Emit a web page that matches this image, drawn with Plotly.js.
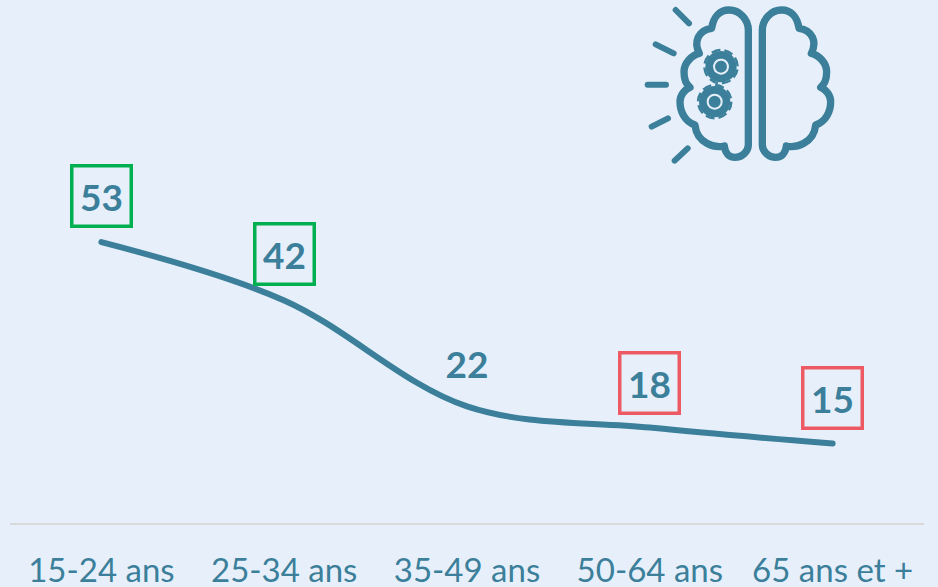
<!DOCTYPE html>
<html><head><meta charset="utf-8">
<script src="https://cdn.plot.ly/plotly-3.0.1.min.js"></script>
<style>html,body{margin:0;padding:0;background:#E7F0FA;overflow:hidden}
.js-line{stroke-linecap:round !important}</style>
</head><body><div id="chart" style="width:938px;height:587px"></div>
<script>
const categories = ["15-24 ans","25-34 ans","35-49 ans","50-64 ans","65 ans et +"];
const values = [53,42,22,18,15];
const labelBorders = ["#00B050","#00B050",null,"#EE5A64","#EE5A64"];
const labelShift = [46,46,43,45,46];
const ink = "#3B7F9A", bg = "#E7F0FA";

const half = `<path d="M355 90V435C355 455 335 472 315 472C297 472 285 458 283 438C255 445 200 430 195 375C165 365 150 335 150 305C150 285 165 268 180 262C165 250 162 230 162 215C162 190 185 165 208 160C190 125 205 90 245 85C250 50 270 30 297 30C330 30 355 60 355 90Z" fill="none" stroke="${ink}" stroke-width="22" stroke-linejoin="round"/>`;
const gear = (x,y,r) => `<g transform="translate(${x} ${y}) rotate(${r})"><circle r="47" fill="${ink}"/><circle r="50" fill="none" stroke="${ink}" stroke-width="7" stroke-dasharray="27 12.27"/><circle r="24" fill="${bg}"/><circle r="18" fill="${ink}"/></g>`;
const ray = (a,b,c,d) => `<line x1="${a}" y1="${b}" x2="${c}" y2="${d}" stroke="${ink}" stroke-width="18" stroke-linecap="round"/>`;
const svg = `<svg xmlns="http://www.w3.org/2000/svg" viewBox="0 0 660 510" width="660" height="510">${half}<g transform="translate(752 0) scale(-1 1)">${half}</g>${gear(273,200,10)}${gear(254,305,0)}${ray(137,30,177,70)}${ray(77,133,131,160)}${ray(53,254,108,254)}${ray(65,380,114,355)}${ray(134,482,173,445)}</svg>`;

const annotations = categories.map((c,i)=>{
  const a = {x:c,y:values[i],xref:"x",yref:"y",text:"<b>"+values[i]+"</b>",showarrow:false,yshift:labelShift[i],
    font:{family:"Lato, sans-serif",size:37,color:ink},width:56,height:57,align:"center",valign:"middle"};
  if(labelBorders[i]){a.bordercolor=labelBorders[i];a.borderwidth=3.5;a.borderpad=0;}
  return a;
});

Plotly.newPlot("chart",[{
  type:"scatter",mode:"lines",x:categories,y:values,
  line:{color:ink,width:6,shape:"spline",smoothing:1},hoverinfo:"skip"
}],{
  width:938,height:587,
  margin:{l:10,r:14,t:0,b:64},
  paper_bgcolor:bg,plot_bgcolor:bg,showlegend:false,
  xaxis:{type:"category",range:[-0.5,4.5],showgrid:false,zeroline:false,showline:true,linecolor:"#D9D9D9",linewidth:2,
    ticks:"",tickfont:{family:"Lato, sans-serif",size:33,color:ink},automargin:false,ticklabelstandoff:17},
  yaxis:{range:[0,98.68],visible:false,fixedrange:true},
  annotations,
  images:[{source:"data:image/svg+xml;utf8,"+encodeURIComponent(svg),xref:"paper",yref:"paper",
    x:620/914,y:1,sizex:220/914,sizey:170/523,sizing:"stretch",xanchor:"left",yanchor:"top",layer:"above"}]
},{staticPlot:true,displayModeBar:false});
</script></body></html>
